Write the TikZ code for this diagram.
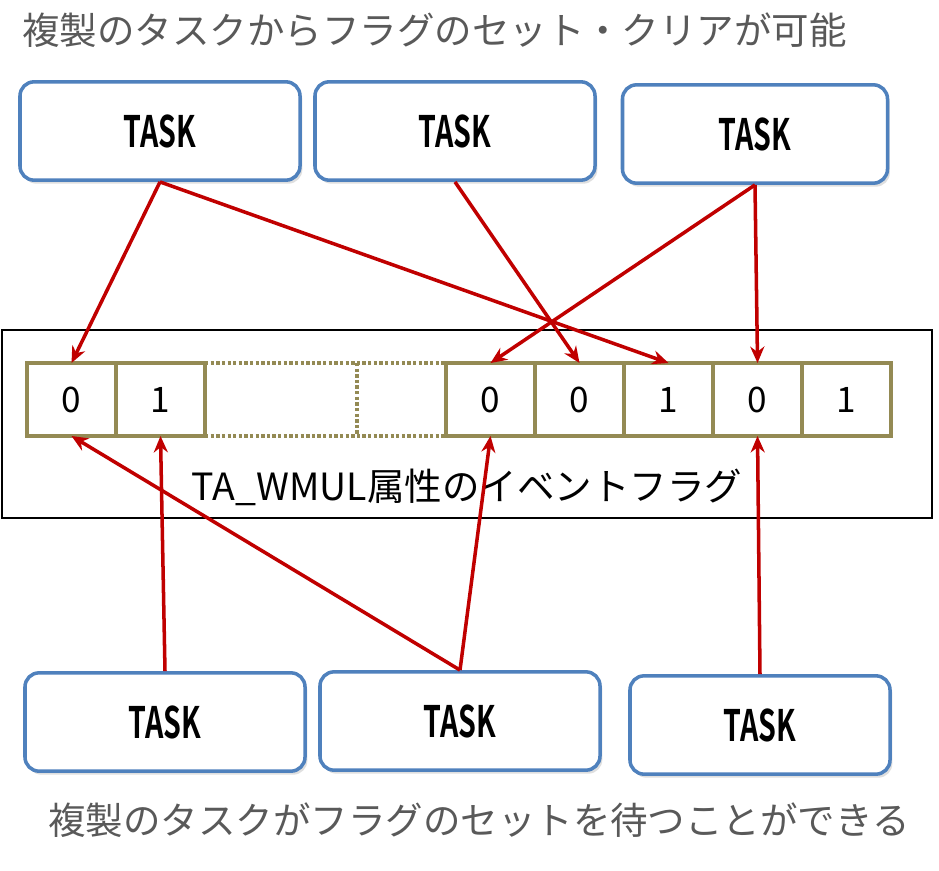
\documentclass[tikz,border=0pt]{standalone}
\usepackage{fontspec}
\setmainfont{Noto Sans CJK JP}
\newfontfamily\jpbold{Noto Sans CJK JP Bold}
\usepackage{graphicx}
\definecolor{taskblue}{RGB}{79,129,189}
\definecolor{flagolive}{RGB}{148,138,84}
\definecolor{arrowred}{RGB}{192,0,0}
\definecolor{notegray}{RGB}{89,89,89}
\usetikzlibrary{positioning,shadows,arrows.meta}
\tikzset{
  taskbox/.style={draw=taskblue, line width=3pt, rounded corners=12pt, fill=white,
    minimum width=8.4cm, minimum height=2.95cm, drop shadow={shadow xshift=2pt,shadow yshift=-3pt,fill=black!25},
    font=\fontsize{37}{37}\selectfont\jpbold},
  flagcell/.style={draw=flagolive, line width=2.8pt, minimum width=2.67cm, minimum height=2.19cm,
    inner sep=0pt, outer sep=0pt, font=\fontsize{30}{30}\selectfont},
  gapcell/.style={minimum width=4.56cm, minimum height=2.19cm, inner sep=0pt, outer sep=0pt},
  flagarrow/.style={draw=arrowred, line width=3pt, -{Stealth[length=14pt,width=12pt]}},
  note/.style={text=notegray, font=\fontsize{32}{32}\selectfont, anchor=west}
}
\newcommand{\tasktext}{\scalebox{0.66}[1]{TASK}}
\begin{document}
\begin{tikzpicture}[x=0.03cm,y=-0.03cm]
  \useasboundingbox (0,0) rectangle (939,871);
  \node[note] (topnote) at (18,30) {複製のタスクからフラグのセット・クリアが可能};
  \node[note] (botnote) at (44,820) {複製のタスクがフラグのセットを待つことができる};

  % tasks
  \node[taskbox] (ta) at (160,131) {\tasktext};
  \node[taskbox] (tb) at (455,131) {\tasktext};
  \node[taskbox, minimum width=7.95cm] (tc) at (755,134) {\tasktext};
  \node[taskbox] (ba) at (165,722) {\tasktext};
  \node[taskbox] (bb) at (460,721) {\tasktext};
  \node[taskbox, minimum width=7.8cm] (bc) at (760,725) {\tasktext};

  % event flag
  \draw[line width=1pt] (2,330) rectangle (932,518);
  \node[flagcell] (f0) at (71.5,399.5) {0};
  \node[flagcell, right=0pt of f0] (f1) {1};
  \node[gapcell, right=0pt of f1] (g1) {};
  \node[gapcell, minimum width=2.67cm, right=0pt of g1] (g2) {};
  \node[flagcell, right=0pt of g2] (f2) {0};
  \node[flagcell, right=0pt of f2] (f3) {0};
  \node[flagcell, right=0pt of f3] (f4) {1};
  \node[flagcell, right=0pt of f4] (f5) {0};
  \node[flagcell, right=0pt of f5] (f6) {1};
  \draw[flagolive, line width=2.8pt, dotted] (g1.north west) -- (g2.north east)
    (g1.south west) -- (g2.south east) (g1.north east) -- (g1.south east);
  \node[font=\fontsize{32}{32}\selectfont] (label) at (467,487) {TA\_WMUL属性のイベントフラグ};

  % arrows
  \draw[flagarrow] (ta.south) -- (f0.north);
  \draw[flagarrow] (ta.south) -- (f4.north);
  \draw[flagarrow] (tb.south) -- (f3.north);
  \draw[flagarrow] (tc.south) -- (f2.north);
  \draw[flagarrow] (tc.south) -- (f5.north);
  \draw[flagarrow] (ba.north) -- (f1.south);
  \draw[flagarrow] (bb.north) -- (f0.south);
  \draw[flagarrow] (bb.north) -- (f2.south);
  \draw[flagarrow] (bc.north) -- (f5.south);
\end{tikzpicture}
\end{document}
